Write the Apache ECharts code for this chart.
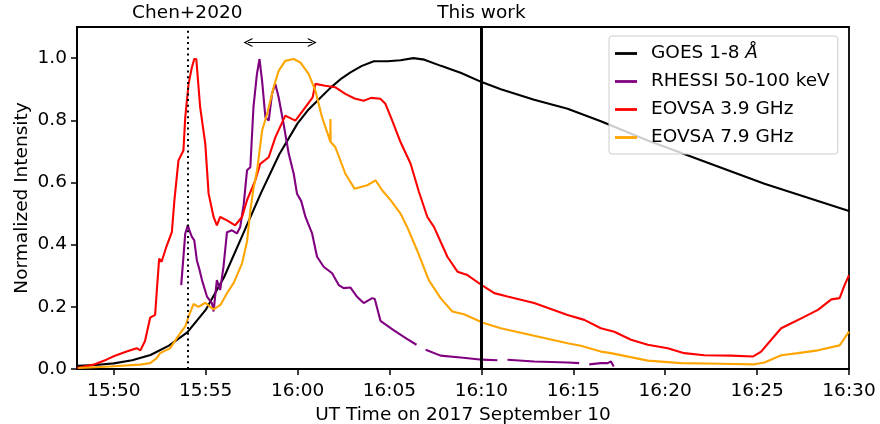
<!DOCTYPE html>
<html>
<head>
<meta charset="utf-8">
<script src="https://cdn.jsdelivr.net/npm/echarts@6.0.0/dist/echarts.min.js"></script>
<style>
    html, body { margin: 0; padding: 0; background: #fff; }
    #flare-chart { width: 880px; height: 424px; }
</style>
</head>
<body>
<div id="flare-chart"></div>
<script>
    // time in minutes after 15:00 UT, values normalized
    var xTicks = [50, 55, 60, 65, 70, 75, 80, 85, 90];
    var yTicks = [0, 0.2, 0.4, 0.6, 0.8, 1.0];

    var goesT = [48, 49, 50, 51, 52, 53, 54, 55, 56, 57, 58, 59, 60, 60.6, 61.2, 61.8, 62.4, 62.9, 63.5, 64.15,
        64.9, 65.6, 66.3, 66.9, 67.8, 68.9, 70.05, 71.06, 72.87, 74.69, 76.5, 79.05, 82.68, 85.4, 90];
    var goesV = [0.01, 0.013, 0.018, 0.028, 0.045, 0.075, 0.118, 0.19, 0.295, 0.43, 0.565, 0.69, 0.79, 0.835, 0.87,
        0.905, 0.935, 0.955, 0.975, 0.99, 0.99, 0.993, 1.0, 0.995, 0.975, 0.952, 0.922, 0.90, 0.866, 0.837, 0.797,
        0.735, 0.655, 0.596, 0.508];

    var rhessiT = [53.67, 53.89, 54.03, 54.15, 54.25, 54.38, 54.52, 54.67, 54.8, 55.07, 55.34, 55.43, 55.61, 55.79,
        55.97, 56.16, 56.43, 56.7, 56.88, 57.07, 57.25, 57.43, 57.6, 57.79, 57.93, 58.07, 58.25, 58.43, 58.61, 58.79,
        58.97, 59.24, 59.52, 59.79, 59.97, 60.2, 60.43, 60.79, 61.06, 61.42, 61.88, 62.24, 62.51, 62.88, 63.2, 63.42,
        63.6, 64.06, 64.2, 64.51, 65.24, 65.97, 66.47, 66.7, 66.97, 67.78, 68.87, 70.05, 70.87, 71.1, 71.42, 72.87,
        74.69, 75.32, 75.6, 75.87, 76.5, 76.87, 77.05, 77.2];
    var rhessiV = [0.27, 0.436, 0.462, 0.44, 0.425, 0.414, 0.35, 0.318, 0.286, 0.233, 0.212, 0.185, 0.286, 0.254,
        0.329, 0.44, 0.446, 0.436, 0.457, 0.53, 0.639, 0.649, 0.842, 0.949, 0.997, 0.927, 0.81, 0.799, 0.885, 0.917,
        0.874, 0.788, 0.692, 0.628, 0.564, 0.54, 0.489, 0.436, 0.361, 0.329, 0.308, 0.27, 0.26, 0.262, 0.235, 0.222,
        0.212, 0.228, 0.225, 0.155, 0.124, 0.096, 0.078, null, 0.062, 0.043, 0.037, 0.03, 0.028, null, 0.03, 0.024,
        0.021, 0.019, null, 0.015, 0.019, 0.019, 0.024, 0.008];

    var low39T = [48.0, 48.9, 49.6, 50.03, 50.7, 51.25, 51.45, 51.7, 51.98, 52.25, 52.34, 52.47, 52.6, 52.89, 53.16,
        53.3, 53.52, 53.79, 53.89, 54.07, 54.25, 54.38, 54.49, 54.7, 54.98, 55.16, 55.43, 55.61, 55.79, 56.16, 56.6,
        56.98, 57.25, 57.7, 57.97, 58.43, 58.79, 59.33, 59.88, 60.43, 60.82, 60.97, 61.5, 62.06, 62.6, 63.1, 63.6,
        64.0, 64.5, 64.78, 65.15, 65.6, 66.15, 66.6, 67.06, 67.42, 68.15, 68.7, 69.24, 70.09, 70.7, 71.42, 72.87,
        74.69, 75.6, 76.5, 77.23, 78.14, 79.05, 80.14, 81.04, 82.13, 83.6, 84.77, 85.22, 85.77, 86.31, 86.86, 87.4,
        88.31, 89.04, 89.49, 89.76, 90.0];
    var low39V = [0.003, 0.014, 0.03, 0.042, 0.056, 0.067, 0.06, 0.09, 0.165, 0.174, 0.25, 0.355, 0.345, 0.398, 0.44,
        0.543, 0.671, 0.703, 0.81, 0.917, 0.97, 0.997, 0.997, 0.842, 0.724, 0.564, 0.489, 0.462, 0.489, 0.478, 0.462,
        0.489, 0.543, 0.607, 0.66, 0.681, 0.745, 0.815, 0.799, 0.842, 0.874, 0.917, 0.911, 0.906, 0.885, 0.87, 0.863,
        0.872, 0.869, 0.853, 0.799, 0.73, 0.66, 0.57, 0.489, 0.457, 0.361, 0.313, 0.302, 0.267, 0.244, 0.233, 0.212,
        0.174, 0.158, 0.131, 0.12, 0.094, 0.078, 0.067, 0.051, 0.044, 0.043, 0.04, 0.056, 0.094, 0.131, 0.147, 0.163,
        0.19, 0.224, 0.228, 0.27, 0.302];

    var high79T = [48.07, 49.8, 51.43, 51.98, 52.34, 52.52, 53.07, 53.61, 53.89, 54.07, 54.34, 54.61, 54.98, 55.25,
        55.43, 55.8, 56.16, 56.52, 56.98, 57.25, 57.43, 57.6, 57.8, 58.07, 58.34, 58.7, 58.97, 59.33, 59.79, 60.15,
        60.6, 60.97, 61.33, 61.7, 61.78, 61.79, 61.8, 62.06, 62.6, 63.1, 63.79, 64.24, 64.6, 65.06, 65.6, 65.96, 66.5,
        67.14, 67.78, 68.42, 69.05, 70.09, 71.05, 72.87, 74.69, 75.41, 76.5, 77.05, 79.05, 80.86, 83.04, 84.86, 85.4,
        86.31, 87.22, 88.31, 89.49, 90.0];
    var high79V = [0.003, 0.008, 0.014, 0.019, 0.035, 0.051, 0.067, 0.115, 0.137, 0.169, 0.209, 0.2, 0.213, 0.2,
        0.192, 0.206, 0.244, 0.276, 0.34, 0.41, 0.51, 0.58, 0.64, 0.767, 0.82, 0.906, 0.959, 0.991, 0.997, 0.986,
        0.949, 0.895, 0.81, 0.746, 0.73, 0.804, 0.73, 0.713, 0.628, 0.58, 0.591, 0.607, 0.575, 0.543, 0.5, 0.457,
        0.382, 0.286, 0.228, 0.185, 0.176, 0.149, 0.131, 0.107, 0.083, 0.075, 0.056, 0.051, 0.027, 0.019, 0.017,
        0.015, 0.021, 0.044, 0.051, 0.06, 0.076, 0.12];

    var chenTime = 54, thisWorkTime = 70;
    var arrowFrom = [57.3, 1.05], arrowTo = [60.8, 1.05];

    function pairs(t, v) {
        return t.map(function (x, i) { return [x, v[i]]; });
    }

    function fmtTime(v) {
        var h = 15 + Math.floor(v / 60), m = Math.round(v % 60);
        return h + ':' + (m < 10 ? '0' : '') + m;
    }

    var font = 'DejaVu Sans', fs = 18.5;
    var chevron = 'path://M0,10 L5,0 L10,10 L8.6,10 L5,2.8 L1.4,10 Z';

    function line(name, color, data, extra) {
        var s = {
            name: name,
            type: 'line',
            data: data,
            showSymbol: false,
            symbol: 'none',
            connectNulls: false,
            animation: false,
            lineStyle: {color: color, width: 2.1},
            itemStyle: {color: color}
        };
        for (var k in extra) s[k] = extra[k];
        return s;
    }

    var myChart = echarts.init(document.getElementById('flare-chart'));
    var option = {
        animation: false,
        textStyle: {fontFamily: font},
        grid: {
            left: 77, right: 31, top: 27, bottom: 55, outerBoundsMode: 'none',
            show: true, borderColor: '#000', borderWidth: 1.8
        },
        legend: {
            orient: 'vertical',
            left: 609,
            top: 36,
            padding: [8, 8, 7, 6],
            itemGap: 9,
            itemWidth: 22,
            itemHeight: 2.8,
            icon: 'rect',
            backgroundColor: 'rgba(255,255,255,0.8)',
            borderColor: '#cccccc',
            borderWidth: 1,
            borderRadius: 3,
            textStyle: {
                fontFamily: font, fontSize: fs, color: '#000', lineHeight: 19, padding: [0, 0, 0, 9],
                rich: {
                    n: {fontFamily: font, fontSize: fs, color: '#000'},
                    i: {fontFamily: font, fontSize: fs, color: '#000', fontStyle: 'italic'}
                }
            },
            formatter: function (name) {
                return name === 'GOES 1-8 Å' ? '{n|GOES 1-8 }{i|Å}' : name;
            },
            data: ['GOES 1-8 Å', 'RHESSI 50-100 keV', 'EOVSA 3.9 GHz', 'EOVSA 7.9 GHz']
        },
        xAxis: {
            type: 'value',
            min: 48,
            max: 90,
            name: 'UT Time on 2017 September 10',
            nameLocation: 'middle',
            nameGap: 32,
            nameTextStyle: {fontFamily: font, fontSize: fs, color: '#000'},
            axisLine: {show: true, lineStyle: {color: '#000', width: 1.8}},
            axisTick: {show: true, length: 6, customValues: xTicks, lineStyle: {color: '#000', width: 1.5}},
            axisLabel: {
                customValues: xTicks, margin: 13, fontFamily: font, fontSize: fs, color: '#000',
                formatter: fmtTime
            },
            splitLine: {show: false}
        },
        yAxis: {
            type: 'value',
            min: 0,
            max: 1.1,
            name: 'Normalized Intensity',
            nameLocation: 'middle',
            nameGap: 45,
            nameMoveOverlap: false,
            nameTextStyle: {fontFamily: font, fontSize: fs, color: '#000'},
            axisLine: {show: true, lineStyle: {color: '#000', width: 1.8}},
            axisTick: {show: true, length: 6, customValues: yTicks, lineStyle: {color: '#000', width: 1.5}},
            axisLabel: {
                customValues: yTicks, margin: 10, fontFamily: font, fontSize: fs, color: '#000',
                formatter: function (v) { return v.toFixed(1); }
            },
            splitLine: {show: false}
        },
        series: [
            line('GOES 1-8 Å', '#000000', pairs(goesT, goesV), {
                markLine: {
                    silent: true,
                    symbol: 'none',
                    animation: false,
                    label: {show: true, position: 'end', distance: 4, fontFamily: font, fontSize: fs, color: '#000'},
                    data: [
                        {xAxis: chenTime, label: {formatter: 'Chen+2020'},
                            lineStyle: {color: '#000', width: 2, type: [2, 3.7]}},
                        {xAxis: thisWorkTime, label: {formatter: 'This work'},
                            lineStyle: {color: '#000', width: 3, type: 'solid'}},
                        [
                            {coord: arrowFrom, symbol: chevron, symbolSize: [9, 9], label: {show: false},
                                lineStyle: {color: '#000', width: 1.2, type: 'solid'}},
                            {coord: arrowTo, symbol: chevron, symbolSize: [9, 9]}
                        ]
                    ]
                }
            }),
            line('RHESSI 50-100 keV', '#800080', pairs(rhessiT, rhessiV)),
            line('EOVSA 3.9 GHz', '#ff0000', pairs(low39T, low39V)),
            line('EOVSA 7.9 GHz', '#ffa500', pairs(high79T, high79V))
        ]
    };
    myChart.setOption(option);
</script>
</body>
</html>
